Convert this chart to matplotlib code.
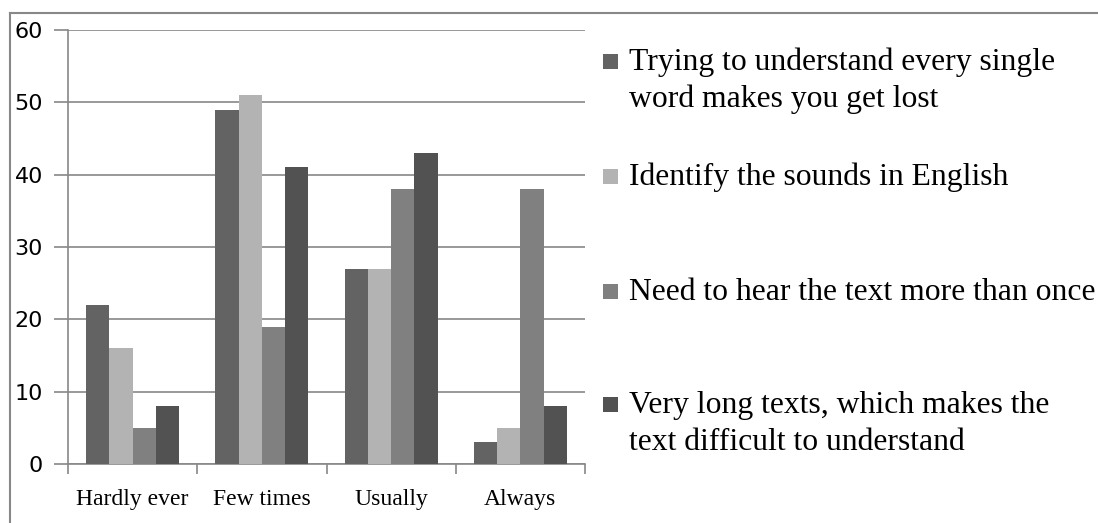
import numpy as np
import matplotlib.pyplot as plt
from matplotlib.patches import Rectangle

categories = ['Hardly ever', 'Few times', 'Usually', 'Always']
series_names = ['Trying to understand every single\nword makes you get lost',
                'Identify the sounds in English',
                'Need to hear the text more than once',
                'Very long texts, which makes the\ntext difficult to understand']
understand_every_word = [22, 49, 27, 3]
identify_sounds = [16, 51, 27, 5]
hear_more_than_once = [5, 19, 38, 38]
long_texts = [8, 41, 43, 8]
values = [understand_every_word, identify_sounds, hear_more_than_once, long_texts]
colors = ['#636363', '#b3b3b3', '#808080', '#525252']

fig = plt.figure(figsize=(10.98, 5.23), dpi=100)
ax = fig.add_axes([68/1098, 1-464/523, (585-68)/1098, (464-30)/523])

x = np.arange(len(categories))
w = 0.18
for i, vals in enumerate(values):
    ax.bar(x + (i - 1.5) * w, vals, w, color=colors[i], zorder=3)

ax.set_xlim(-0.5, 3.5)
ax.set_ylim(0, 60)
ax.set_yticks(range(0, 61, 10))
ax.yaxis.grid(True, color='#888888', lw=1.2, zorder=0)
ax.tick_params(axis='y', length=10, color='#888888', width=1.2, pad=8, labelsize=16)
ax.set_xticks(x)
ax.set_xticklabels(categories, fontfamily='Liberation Serif', fontsize=17)
ax.set_xticks(np.arange(-0.5, 4, 1), minor=True)
ax.tick_params(axis='x', which='major', length=0, pad=18)
ax.tick_params(axis='x', which='minor', length=7, color='#888888', width=1.2)
for s in ['top', 'right']:
    ax.spines[s].set_visible(False)
for s in ['left', 'bottom']:
    ax.spines[s].set_color('#888888')
    ax.spines[s].set_linewidth(1.2)

# outer chart border (only top and left visible)
fig.add_artist(plt.Line2D([10/1098, 1], [1-13/523, 1-13/523], color='#888888', lw=1.5))
fig.add_artist(plt.Line2D([10/1098, 10/1098], [0, 1-13/523], color='#888888', lw=1.5))

# legend, entries placed like the original (first-line baselines in px)
legend_base = [70, 185, 300, 413]
line_step = 37
for i, name in enumerate(series_names):
    b = legend_base[i]
    fig.add_artist(Rectangle((603/1098, 1-(b-1)/523), 15/1098, 15/523,
                             facecolor=colors[i], edgecolor='none'))
    for j, line in enumerate(name.split('\n')):
        fig.text(629/1098, 1-(b + j*line_step)/523, line, fontfamily='Liberation Serif',
                 fontsize=22.8, va='baseline', ha='left')

fig.savefig('out.png', dpi=100)
